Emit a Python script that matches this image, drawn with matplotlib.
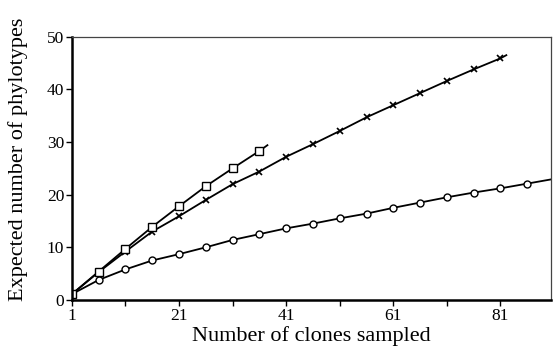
import matplotlib
matplotlib.use("Agg")
import matplotlib.pyplot as plt
from matplotlib.ticker import FixedLocator

# clones sampled (every 5th clone) and expected phylotypes per library
x_square = [1, 6, 11, 16, 21, 26, 31, 36, 37.5]
y_square = [1.1, 5.4, 9.7, 13.9, 17.8, 21.6, 25.0, 28.3, 29.4]

x_cross = [1, 6, 11, 16, 21, 26, 31, 36, 41, 46, 51, 56, 61, 66, 71, 76, 81, 82.1]
y_cross = [1.1, 5.3, 9.2, 13.0, 15.9, 19.0, 22.0, 24.4, 27.2, 29.6, 32.1, 34.7,
           37.0, 39.3, 41.6, 43.8, 45.9, 46.5]

x_circle = [1, 6, 11, 16, 21, 26, 31, 36, 41, 46, 51, 56, 61, 66, 71, 76, 81, 86, 91]
y_circle = [1.1, 3.8, 5.8, 7.5, 8.7, 10.0, 11.4, 12.5, 13.6, 14.5, 15.5, 16.4,
            17.5, 18.5, 19.5, 20.4, 21.2, 22.1, 23.0]

x_major = [1, 21, 41, 61, 81]
x_minor = [11, 31, 51, 71, 91]
y_ticks = [0, 10, 20, 30, 40, 50]

plt.rcParams["font.family"] = "Liberation Serif"

fig = plt.figure(figsize=(5.53, 3.5), dpi=100)
ax = fig.add_axes([0.130, 0.143, 0.867, 0.752])

style = dict(color="black", lw=1.3, mfc="white", mec="black", mew=1.0)
ax.plot(x_circle, y_circle, marker="o", ms=5, markevery=list(range(len(x_circle) - 1)), **style)
ax.plot(x_cross, y_cross, marker="x", ms=5, mew=1.2, color="black", lw=1.3,
        markevery=list(range(len(x_cross) - 1)))
ax.plot(x_square, y_square, marker="s", ms=5.2, markevery=list(range(len(x_square) - 1)), **style)

ax.set_xlim(1, 90.5)
ax.set_ylim(0, 50)
ax.xaxis.set_major_locator(FixedLocator(x_major))
ax.xaxis.set_minor_locator(FixedLocator(x_minor))
ax.set_yticks(y_ticks)
ax.tick_params(which="both", direction="out", length=4, width=1, labelsize=12.5, pad=1.5)

for side in ["left", "bottom"]:
    ax.spines[side].set_linewidth(1.8)
for side in ["top", "right"]:
    ax.spines[side].set_linewidth(0.9)
    ax.spines[side].set_color("#444444")

ax.set_xlabel("Number of clones sampled", fontsize=16, labelpad=2)
ax.set_ylabel("Expected number of phylotypes", fontsize=16)
ax.yaxis.set_label_coords(-0.092, 0.535)

fig.savefig("out.png", dpi=100)
plt.close(fig)
